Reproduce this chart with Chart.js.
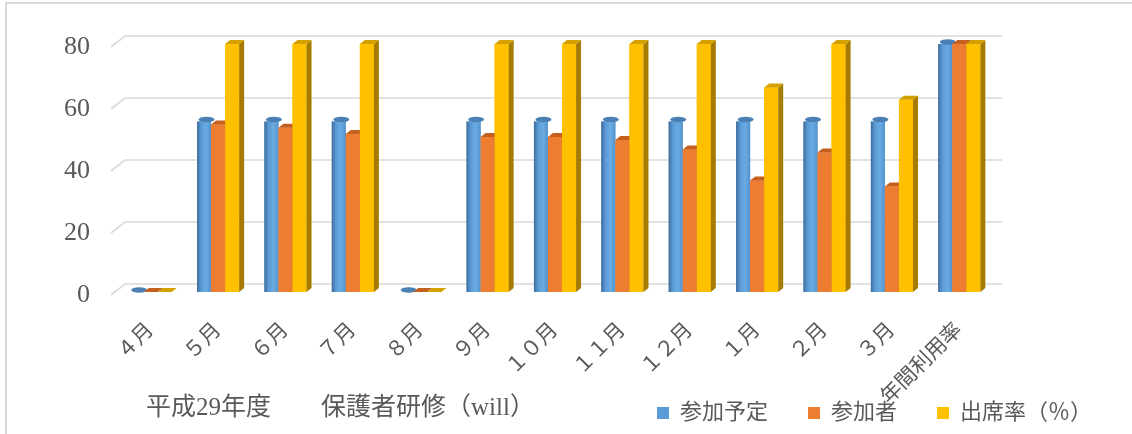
<!DOCTYPE html>
<html>
<head>
<meta charset="utf-8">
<script src="https://cdn.jsdelivr.net/npm/chart.js@4.4.1/dist/chart.umd.min.js"></script>
<style>
  html, body { margin: 0; padding: 0; background: #fff; overflow: hidden; }
  .frame { position: absolute; left: 5px; top: 2px; width: 1140px; height: 440px; border: 2px solid #d9d9d9; box-sizing: border-box; }
  .wrap { position: absolute; left: 0; top: 0; width: 1132px; height: 434px; }
</style>
</head>
<body>
<div class="frame"></div>
<div class="wrap"><canvas id="myChart"></canvas></div>
<script>
const months = ['４月', '５月', '６月', '７月', '８月', '９月', '１０月', '１１月', '１２月', '１月', '２月', '３月', '年間利用率'];
const planned = [0, 55, 55, 55, 0, 55, 55, 55, 55, 55, 55, 55, 80];
const attended = [0, 54, 53, 51, 0, 50, 50, 49, 46, 36, 45, 34, 80];
const attendRate = [0, 80, 80, 80, 0, 80, 80, 80, 80, 66, 80, 62, 80];
const seriesNames = ['参加予定', '参加者', '出席率（％）'];
const yTicks = [0, 20, 40, 60, 80];
const chartTitle = '平成29年度　　保護者研修（will）';

const fontFamily = "'Liberation Serif', 'Noto Sans CJK JP', serif";
const textColor = '#595959';
const frontColors = ['#5b9bd5', '#ed7d31', '#ffc000'];
const capColors = ['#4a80b4', '#c5601f', '#d4a000'];
const sideColors = ['#41719c', '#ae5a21', '#a67c00'];

// fake depth for the 3D look
const DX = 5, DY = -4;

// floor lines with the little slanted lead-in on the left
const gridPlugin = {
    id: 'grid3d',
    beforeDatasetsDraw(chart) {
        const { ctx, chartArea } = chart;
        const ys = chart.scales.y;
        ctx.save();
        ctx.strokeStyle = '#d9d9d9';
        ctx.lineWidth = 1.6;
        yTicks.forEach(v => {
            const y = ys.getPixelForValue(v);
            ctx.beginPath();
            ctx.moveTo(chartArea.left - 6, y + 3);
            ctx.lineTo(chartArea.left + 8, y - 8);
            ctx.lineTo(chartArea.right + 9, y - 8);
            ctx.stroke();
        });
        ctx.restore();
    }
};

// redraw each bar as a box: front, right side and top
const boxPlugin = {
    id: 'box3d',
    afterDatasetsDraw(chart) {
        const ctx = chart.ctx;
        ctx.save();
        for (let d = 0; d < 3; d++) {
            chart.getDatasetMeta(d).data.forEach(bar => {
                const { x, y, base, width } = bar.getProps(['x', 'y', 'base', 'width'], true);
                const l = x - width / 2, r = x + width / 2;
                if (d === 0) {
                    const g = ctx.createLinearGradient(l, 0, r, 0);
                    g.addColorStop(0, '#3e6d9c');
                    g.addColorStop(0.3, '#5b9bd5');
                    g.addColorStop(0.65, '#6aabe4');
                    g.addColorStop(1, '#5592cb');
                    ctx.fillStyle = g;
                } else {
                    ctx.fillStyle = frontColors[d];
                }
                ctx.fillRect(l, y, width, base - y);

                if (d > 0 && base - y > 0) {
                    ctx.fillStyle = sideColors[d];
                    ctx.beginPath();
                    ctx.moveTo(r, y);
                    ctx.lineTo(r + DX, y + DY);
                    ctx.lineTo(r + DX, base + DY);
                    ctx.lineTo(r, base);
                    ctx.closePath();
                    ctx.fill();
                }

                ctx.fillStyle = capColors[d];
                ctx.beginPath();
                if (d === 0) {
                    ctx.ellipse(x + DX / 2, y + DY / 2, width / 2 + 1, 2.8, 0, 0, Math.PI * 2);
                } else {
                    ctx.moveTo(l, y);
                    ctx.lineTo(l + DX, y + DY);
                    ctx.lineTo(r + DX, y + DY);
                    ctx.lineTo(r, y);
                    ctx.closePath();
                }
                ctx.fill();
            });
        }
        ctx.restore();
    }
};

const titlePlugin = {
    id: 'bottomTitle',
    afterDraw(chart) {
        const ctx = chart.ctx;
        ctx.save();
        ctx.font = "25px " + fontFamily;
        ctx.fillStyle = textColor;
        ctx.textBaseline = 'middle';
        ctx.fillText(chartTitle, 146, 408);
        ctx.restore();
    }
};

const ctx = document.getElementById('myChart').getContext('2d');
const myChart = new Chart(ctx, {
    type: 'bar',
    data: {
        labels: months,
        datasets: [planned, attended, attendRate].map((values, i) => ({
            label: seriesNames[i],
            data: values,
            yAxisID: 'y',
            backgroundColor: frontColors[i],
            borderWidth: 0,
            categoryPercentage: 0.625,
            barPercentage: 1
        }))
    },
    options: {
        responsive: true,
        maintainAspectRatio: false,
        animation: false,
        layout: {
            padding: { left: 0, top: 44, right: 0, bottom: 0 }
        },
        plugins: {
            legend: {
                position: 'bottom',
                align: 'end',
                labels: {
                    boxWidth: 12,
                    boxHeight: 12,
                    padding: 40,
                    color: textColor,
                    font: { size: 22, family: fontFamily }
                }
            },
            title: { display: false },
            tooltip: { enabled: false }
        },
        scales: {
            x: {
                grid: { display: false, drawTicks: false },
                border: { display: false },
                ticks: {
                    autoSkip: false,
                    maxRotation: 45,
                    minRotation: 45,
                    padding: 26,
                    color: textColor,
                    font: { size: 21, family: fontFamily }
                },
                afterFit: s => {
                    s.height = 70;
                    // long rotated labels run down into the legend row
                    s._computeLabelArea = () => null;
                }
            },
            y: {
                min: 0,
                max: 80,
                grid: { display: false, drawTicks: false },
                border: { display: false },
                ticks: {
                    stepSize: 20,
                    padding: 27,
                    labelOffset: 3,
                    color: textColor,
                    font: { size: 26, family: fontFamily }
                },
                afterFit: s => { s.width = 117; }
            },
            yRight: {
                position: 'right',
                display: true,
                grid: { display: false, drawTicks: false },
                border: { display: false },
                ticks: { display: false },
                afterFit: s => { s.width = 139; }
            }
        }
    },
    plugins: [gridPlugin, boxPlugin, titlePlugin]
});
</script>
</body>
</html>
